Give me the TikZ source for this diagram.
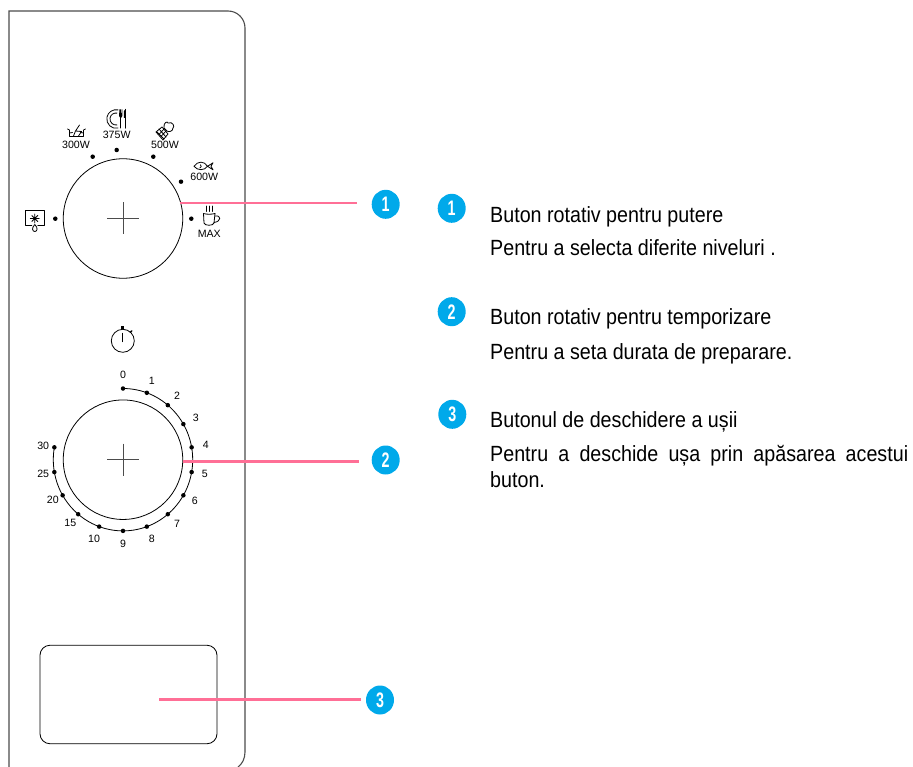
\documentclass[tikz,border=0pt]{standalone}
\usepackage{fontspec}
\setmainfont{Liberation Sans}
\newfontfamily\narrowfont[FakeStretch=0.895]{Liberation Sans}
\newfontfamily\digitfont[FakeStretch=0.68]{Liberation Sans}
\usetikzlibrary{shapes.geometric, calc}
\definecolor{badgeblue}{HTML}{00A9EA}
\definecolor{leaderpink}{HTML}{FF6F96}
\tikzstyle{panelline}=[draw=black!70, line width=1.1pt]
\tikzstyle{knob}=[circle, draw, line width=0.8pt, inner sep=0pt, minimum size=119.5pt]
\tikzstyle{knobdot}=[circle, fill=black, inner sep=0pt, minimum size=4.5pt]
\tikzstyle{scalelabel}=[font=\fontsize{10.6}{10.6}\selectfont, inner sep=0pt]
\tikzstyle{badge}=[ellipse, fill=badgeblue, text=white, inner sep=0pt, minimum width=28pt, minimum height=29pt, font=\digitfont\bfseries\fontsize{21}{21}\selectfont]
\tikzstyle{leader}=[draw=leaderpink, line width=2.4pt]
\tikzstyle{bodytext}=[anchor=base west, inner sep=0pt, font=\narrowfont\fontsize{22}{25.5}\selectfont]
\tikzstyle{icon}=[line width=0.8pt, line cap=round, line join=round]
\newcommand{\crosshair}[1]{\draw[black!70, line width=0.9pt] ($(#1)+(-16,0)$) -- ($(#1)+(16,0)$) ($(#1)+(0,-16)$) -- ($(#1)+(0,16)$);}

\begin{document}
\begin{tikzpicture}[x=1pt, y=-1pt]
\useasboundingbox (0,0) rectangle (913,767);
% panel outline
\draw[panelline] (9,767) -- (9,11) -- (228,11) arc[start angle=-90, end angle=0, radius=17] -- (245,752) .. controls (245,759) and (242,764) .. (238,767);
\node[draw, line width=0.8pt, rounded corners=10pt, minimum width=177pt, minimum height=98.5pt, inner sep=0pt] (doorbutton) at (128.5,694.5) {};

% power knob
\node[knob] (powerknob) at (123,218.5) {};
\crosshair{powerknob}
\node[knobdot] (p1) at (55.3,218.7) {};
\node[knobdot] (p2) at (92.7,156.7) {};
\node[knobdot] (p3) at (116.7,150) {};
\node[knobdot] (p4) at (153.3,156.7) {};
\node[knobdot] (p5) at (181,181.7) {};
\node[knobdot] (p6) at (191.3,218.7) {};
\node[scalelabel] (w300) at (76,145) {300W};
\node[scalelabel] (w375) at (116.7,135) {375W};
\node[scalelabel] (w500) at (165,145) {500W};
\node[scalelabel] (w600) at (204.3,177.3) {600W};
\node[scalelabel] (wmax) at (209.3,234.3) {MAX};

% defrost
\begin{scope}[icon, shift={(34.8,218.5)}]
\draw (-3,7) -- (-9.5,7) -- (-9.5,-8) -- (9.5,-8) -- (9.5,7) -- (3,7);
\draw (-4.5,0) -- (4.5,0) (0,-4.5) -- (0,4.5) (-3,-3) -- (3,3) (-3,3) -- (3,-3);
\draw (0,6) .. controls (-3.5,9.5) and (-2.5,13) .. (0,13) .. controls (2.5,13) and (3.5,9.5) .. (0,6);
\end{scope}
% dish in water
\begin{scope}[icon, shift={(76.5,131)}]
\draw (-9,-2) -- (-7,-1) -- (-7,5.5) -- (7,5.5) -- (7,-1) -- (9,-2);
\draw (-7,2) -- (-4,1.5) (4,1.5) -- (7,2);
\draw (-3,5) -- (-1,0) -- (3,-6) (-1,0) -- (5,0.5) -- (2,5);
\end{scope}
% plate and cutlery
\begin{scope}[icon, shift={(116,119)}]
\draw (2,-9.1) arc[start angle=-78, end angle=-282, radius=9.3];
\draw (1,-5.9) arc[start angle=-80, end angle=-280, radius=6];
\draw[line width=1pt] (4.7,-1) -- (4.7,9);
\fill (3,-9.5) -- (3.6,-9.5) -- (3.6,-6) -- (4.2,-6) -- (4.2,-9.5) -- (5.2,-9.5) -- (5.2,-6) -- (5.8,-6) -- (5.8,-9.5) -- (6.4,-9.5) -- (6.4,-3) -- (5,-1) -- (4.4,-1) -- (3,-3) -- cycle;
\draw[line width=1.1pt] (9.5,-9.5) -- (9.5,9);
\fill (9.5,-9.5) -- (8,-8) -- (7.8,-1) -- (9.5,-1) -- cycle;
\end{scope}
% vegetables
\begin{scope}[icon, shift={(165,131)}]
\draw (-1,-3) .. controls (-2,-9) and (3,-10) .. (3,-8) .. controls (8,-10) and (10,-4) .. (8,-3) .. controls (8,1) and (3,1) .. (2,0) -- cycle;
\draw (-9,1) -- (-3,-4) -- (3,3) -- (-2,9) -- cycle;
\draw (-6,3.5) -- (-1,-2) (-4,5.5) -- (1,0) (-6,-2) -- (1,6) (-8,1) -- (-1,8);
\end{scope}
% fish
\begin{scope}[icon, shift={(203.5,166.3)}]
\draw (4,0) .. controls (1,-5.5) and (-6,-5.5) .. (-9.5,0) .. controls (-6,4.5) and (1,4.5) .. (4,0);
\draw (4,0) -- (9.5,-3.5) -- (7.5,0) -- (9.5,3.5) -- cycle;
\draw (-3,-1.5) .. controls (-2,0) and (-2,1) .. (-3.5,1.5);
\end{scope}
% mug
\begin{scope}[icon, shift={(209.5,218)}]
\draw (-6,-4.5) -- (-5.5,5) .. controls (-5,8) and (4,8) .. (4.5,5) -- (5.5,-4.5);
\draw (-6,-4.5) .. controls (-3,-3.5) and (2,-3.5) .. (5.5,-4.5);
\draw (5.5,-2) .. controls (12,-3) and (12,3.5) .. (4.5,4.5);
\draw (-3,-12) .. controls (-2,-10) and (-4,-9) .. (-3,-6.5) (0,-12) .. controls (1,-10) and (-1,-9) .. (0,-6.5) (3,-12) .. controls (4,-10) and (2,-9) .. (3,-6.5);
\end{scope}
% stopwatch
\begin{scope}[icon, shift={(122.8,340.8)}]
\draw (0,0) circle[radius=11.5];
\draw[line width=1pt] (0,-7.5) -- (0,0.8);
\fill (-1.5,-15) rectangle (1.5,-11.5);
\draw[line width=1.5pt] (7.5,-8.5) -- (9,-10);
\end{scope}

% timer knob
\node[knob] (timerknob) at (123,459.7) {};
\crosshair{timerknob}
\draw[line width=0.8pt] (123,388.5) arc[start angle=-90, end angle=190, x radius=69.7, y radius=71.2];
\foreach \ang/\lab/\rad/\idx in {90/0/84.5/a,70/1/84/b,50/2/84/c,30/3/84/d,10/4/84/e,-10/5/83/f,-30/6/83/g,-50/7/84/h,-70/8/84.5/i,-90/9/84.5/j,-110/10/84.5/k,-130/15/82/l,-150/20/81/m,-170/25/81/n,170/30/81/o}
{
  \node[knobdot] (t\idx) at ($(timerknob)+({69.7*cos(\ang)},{-71.2*sin(\ang)})$) {};
  \node[scalelabel] (tl\idx) at ($(timerknob)+({\rad*cos(\ang)},{-\rad*sin(\ang)})$) {\lab};
}

% badges next to the panel
\node[badge] (b1) at (385.7,204.3) {1};
\node[badge] (b2) at (385.7,460) {2};
\node[badge] (b3) at (380,700) {3};
\coordinate (l1) at (180,203.3);
\coordinate (l2) at (183.3,461.3);
\coordinate (l3) at (159,699.3);
\coordinate (e1) at (357.3,203.3);
\coordinate (e2) at (359,461.3);
\coordinate (e3) at (361,699.3);
\draw[leader] (l1) -- (e1);
\draw[leader] (l2) -- (e2);
\draw[leader] (l3) -- (e3);

% legend
\node[badge] (k1) at (451.7,208.3) {1};
\node[badge] (k2) at (451.7,311.7) {2};
\node[badge] (k3) at (452.3,414.3) {3};
\node[bodytext] (t1a) at (490,222.3) {Buton rotativ pentru putere};
\node[bodytext] (t1b) at (490,256) {Pentru a selecta diferite niveluri .};
\node[bodytext] (t2a) at (490,325) {Buton rotativ pentru temporizare};
\node[bodytext] (t2b) at (490,359.3) {Pentru a seta durata de preparare.};
\node[bodytext] (t3a) at (490,427.7) {Butonul de deschidere a ușii};
\node[bodytext, text width=418pt, align=justify] (t3b) at (490,461.7) {Pentru a deschide ușa prin apăsarea acestui\linebreak buton.};
\end{tikzpicture}
\end{document}
